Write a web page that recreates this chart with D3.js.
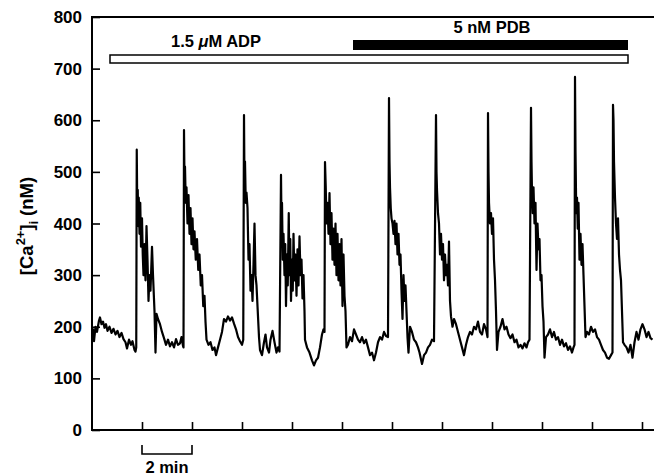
<!DOCTYPE html>
<html>
<head>
<meta charset="utf-8">
<script src="https://cdn.jsdelivr.net/npm/d3@7"></script>
<style>
  body { margin: 0; background: #fff; }
  svg text { font-family: "Liberation Sans", Arial, sans-serif; }
</style>
</head>
<body>
<svg id="chart" width="654" height="476"></svg>
<script>
// time (min) and [Ca2+]i (nM)
const timeMin = [
  0.00, 0.04, 0.08, 0.14, 0.20, 0.28, 0.32, 0.38, 0.44, 0.50, 0.56, 0.62, 0.70, 0.78, 0.86, 0.94, 1.02, 1.10, 1.18, 1.26, 1.34, 1.40, 1.48, 1.56, 1.62, 1.70, 1.74, 1.77,
  1.79, 1.81, 1.83, 1.85, 1.87, 1.90, 1.93, 1.96, 2.00, 2.03, 2.06, 2.10, 2.14, 2.18, 2.22, 2.26, 2.30, 2.34, 2.40, 2.44, 2.50, 2.54, 2.58, 2.64, 2.72, 2.80, 2.88, 2.96, 3.04, 3.12, 3.20, 3.28, 3.36, 3.44, 3.52, 3.58, 3.64, 3.66,
  3.68, 3.70, 3.72, 3.75, 3.78, 3.82, 3.86, 3.90, 3.94, 3.98, 4.02, 4.06, 4.10, 4.15, 4.20, 4.25, 4.30, 4.35, 4.40, 4.45, 4.50, 4.54, 4.58, 4.66, 4.74, 4.82, 4.90, 4.96, 5.04, 5.12, 5.20, 5.28, 5.36, 5.44, 5.52, 5.60, 5.68, 5.76, 5.84, 5.92, 6.00, 6.05,
  6.08, 6.10, 6.12, 6.15, 6.18, 6.22, 6.26, 6.30, 6.34, 6.38, 6.42, 6.46, 6.50, 6.54, 6.58, 6.62, 6.68, 6.72, 6.80, 6.88, 6.94, 7.00, 7.08, 7.14, 7.22, 7.30, 7.38, 7.44, 7.50,
  7.56, 7.58, 7.60, 7.63, 7.66, 7.70, 7.73, 7.76, 7.80, 7.83, 7.87, 7.90, 7.93, 7.96, 8.00, 8.03, 8.06, 8.10, 8.14, 8.18, 8.22, 8.26, 8.30, 8.34, 8.38, 8.42, 8.46, 8.50, 8.52, 8.60, 8.70, 8.80, 8.88, 8.96, 9.04, 9.12, 9.20, 9.26, 9.30,
  9.32, 9.35, 9.38, 9.42, 9.46, 9.50, 9.54, 9.58, 9.62, 9.66, 9.70, 9.74, 9.78, 9.82, 9.86, 9.90, 9.94, 9.98, 10.02, 10.06, 10.10, 10.14, 10.18, 10.24, 10.32, 10.40, 10.48, 10.56, 10.64, 10.72, 10.80, 10.88, 10.96, 11.04, 11.12, 11.20, 11.28, 11.36, 11.44, 11.52, 11.60, 11.68, 11.76, 11.84,
  11.88, 11.90, 11.92, 11.95, 11.98, 12.02, 12.06, 12.10, 12.14, 12.18, 12.22, 12.26, 12.30, 12.34, 12.38, 12.42, 12.46, 12.50, 12.54, 12.58, 12.62, 12.66, 12.72, 12.80, 12.88, 12.96, 13.04, 13.10, 13.20, 13.28, 13.36, 13.44, 13.52, 13.60, 13.68,
  13.76, 13.78, 13.80, 13.84, 13.88, 13.92, 13.96, 14.00, 14.04, 14.08, 14.12, 14.16, 14.20, 14.24, 14.28, 14.32, 14.36, 14.42, 14.48, 14.56, 14.64, 14.72, 14.80, 14.88, 14.96, 15.04, 15.12, 15.20, 15.28, 15.36, 15.44, 15.52, 15.60, 15.68, 15.76, 15.82,
  15.84, 15.86, 15.88, 15.92, 15.96, 16.00, 16.04, 16.08, 16.12, 16.16, 16.20, 16.26, 16.34, 16.42, 16.50, 16.58, 16.66, 16.74, 16.82, 16.90, 16.98, 17.06, 17.14, 17.22, 17.30, 17.38, 17.44, 17.50,
  17.56, 17.58, 17.60, 17.63, 17.66, 17.70, 17.74, 17.78, 17.82, 17.86, 17.90, 17.94, 17.98, 18.02, 18.06, 18.10, 18.16, 18.24, 18.32, 18.40, 18.48, 18.56, 18.64, 18.72, 18.80, 18.88, 18.96, 19.04, 19.12, 19.20, 19.26, 19.30,
  19.32, 19.34, 19.37, 19.40, 19.43, 19.46, 19.50, 19.54, 19.58, 19.62, 19.66, 19.70, 19.74, 19.80, 19.88, 19.96, 20.04, 20.12, 20.20, 20.28, 20.36, 20.44, 20.52, 20.60, 20.68, 20.76, 20.82,
  20.84, 20.86, 20.88, 20.92, 20.96, 21.00, 21.04, 21.08, 21.12, 21.16, 21.20, 21.24, 21.30, 21.38, 21.46, 21.54, 21.62, 21.70, 21.78, 21.86, 21.94, 22.02, 22.10, 22.18, 22.26, 22.34, 22.42
];
const caNM = [
  185, 195, 172, 200, 190, 212, 218, 205, 210, 198, 205, 192, 200, 188, 196, 185, 192, 180, 188, 176, 170, 158, 175, 165, 172, 155, 152, 160,
  543, 430, 465, 395, 450, 380, 440, 355, 410, 340, 300, 360, 290, 395, 330, 250, 300, 270, 355, 300, 230, 150, 225, 215, 205, 190, 178, 165, 175, 162, 170, 160, 176, 165, 168, 180, 163, 160,
  581, 480, 510, 440, 470, 400, 455, 380, 430, 360, 410, 350, 385, 330, 370, 310, 340, 280, 300, 240, 260, 210, 175, 165, 170, 155, 160, 145, 160, 175, 190, 215, 210, 220, 212, 218, 206, 195, 180, 172, 165, 175,
  610, 470, 520, 440, 460, 430, 330, 360, 270, 300, 250, 320, 400, 300, 280, 240, 180, 155, 145, 170, 185, 160, 150, 175, 192, 170, 150, 160, 152,
  494, 400, 440, 330, 380, 300, 360, 240, 340, 280, 420, 300, 370, 250, 330, 270, 380, 290, 340, 260, 350, 280, 375, 300, 330, 255, 300, 230, 175, 160, 150, 135, 125, 135, 140, 160, 185, 195, 190,
  519, 470, 400, 440, 380, 459, 360, 420, 330, 390, 320, 400, 300, 380, 290, 360, 280, 370, 240, 340, 260, 230, 160, 165, 180, 172, 195, 185, 175, 170, 180, 168, 175, 160, 145, 150, 135, 150, 170, 180, 175, 190, 182, 180,
  643, 520, 470, 430, 410, 400, 380, 405, 360, 400, 340, 380, 320, 340, 270, 215, 300, 250, 280, 230, 180, 150, 200, 190, 175, 170, 160, 150, 128, 145, 150, 160, 165, 175, 172,
  610, 500, 465, 420, 400, 340, 380, 330, 360, 290, 340, 300, 320, 280, 365, 250, 220, 200, 215, 205, 190, 175, 160, 145, 165, 180, 190, 185, 200, 195, 210, 190, 185, 205, 195, 180,
  614, 500, 440, 400, 420, 380, 410, 330, 290, 230, 155, 190, 200, 215, 195, 200, 185, 178, 185, 170, 175, 160, 165, 158, 168, 160, 170, 175,
  624, 520, 460, 420, 470, 400, 440, 310, 400, 350, 370, 290, 300, 240, 210, 140, 180, 185, 195, 180, 190, 175, 180, 165, 175, 162, 168, 155, 162, 150, 160, 165,
  684, 540, 420, 450, 390, 440, 330, 380, 320, 360, 300, 240, 180, 190, 185, 200, 190, 195, 180, 175, 165, 155, 150, 140, 138, 145, 150,
  630, 600, 520, 450, 400, 370, 410, 340, 310, 290, 230, 170, 165, 160, 150, 165, 140, 170, 190, 175, 195, 205, 195, 180, 190, 178, 175
];
const yTicks = [0, 100, 200, 300, 400, 500, 600, 700, 800];
const xTicks = [2, 4, 6, 8, 10, 12, 14, 16, 18, 20, 22];
// treatment bars: [start, end] in min
const adpSpan = [0.72, 21.44];
const pdbSpan = [10.44, 21.44];

const svg = d3.select('#chart');
const margin = { top: 17, left: 92, bottom: 46 };
const width = 654;
const height = 476;

const x = d3.scaleLinear().domain([0, 22.48]).range([margin.left, width]);
const y = d3.scaleLinear().domain([0, 800]).range([height - margin.bottom, margin.top]);

const data = timeMin.map((t, i) => ({ t, v: caNM[i] }));

// trace
svg.append('path')
  .datum(data)
  .attr('fill', 'none')
  .attr('stroke', '#000')
  .attr('stroke-width', 2.2)
  .attr('stroke-linejoin', 'round')
  .attr('d', d3.line().x((d) => x(d.t)).y((d) => y(d.v)));

// y axis, ticks pointing inward
const yAxis = svg.append('g')
  .attr('transform', `translate(${margin.left},0)`)
  .call(d3.axisRight(y).tickValues(yTicks).tickSize(8).tickFormat(''));
yAxis.select('.domain').remove();
yAxis.selectAll('line').attr('stroke-width', 1.6);

svg.append('g')
  .selectAll('text')
  .data(yTicks)
  .enter()
  .append('text')
  .attr('x', margin.left - 10)
  .attr('y', (d) => y(d))
  .attr('dy', '0.36em')
  .attr('text-anchor', 'end')
  .attr('font-size', 17)
  .attr('font-weight', 'bold')
  .text((d) => d);

// x axis, ticks pointing inward, no labels
const xAxis = svg.append('g')
  .attr('transform', `translate(0,${y(0)})`)
  .call(d3.axisTop(x).tickValues(xTicks).tickSize(8).tickFormat(''));
xAxis.select('.domain').remove();
xAxis.selectAll('line').attr('stroke-width', 1.6);

// frame lines
svg.append('path')
  .attr('d', `M${width},${y(800)}H${margin.left}V${y(0)}H${width}`)
  .attr('fill', 'none')
  .attr('stroke', '#000')
  .attr('stroke-width', 2);

// treatment bars
svg.append('rect')
  .attr('x', x(adpSpan[0]))
  .attr('y', 55)
  .attr('width', x(adpSpan[1]) - x(adpSpan[0]))
  .attr('height', 8)
  .attr('fill', '#fff')
  .attr('stroke', '#000')
  .attr('stroke-width', 1.5);

svg.append('rect')
  .attr('x', x(pdbSpan[0]))
  .attr('y', 40)
  .attr('width', x(pdbSpan[1]) - x(pdbSpan[0]))
  .attr('height', 10)
  .attr('fill', '#000');

const adpLabel = svg.append('text')
  .attr('x', 216)
  .attr('y', 47)
  .attr('text-anchor', 'middle')
  .attr('font-size', 16.5)
  .attr('font-weight', 'bold');
adpLabel.append('tspan').text('1.5 ');
adpLabel.append('tspan').attr('font-style', 'italic').text('μ');
adpLabel.append('tspan').text('M ADP');

svg.append('text')
  .attr('x', 492)
  .attr('y', 33)
  .attr('text-anchor', 'middle')
  .attr('font-size', 16.5)
  .attr('font-weight', 'bold')
  .text('5 nM PDB');

// y label
const yLabel = svg.append('text')
  .attr('transform', 'translate(33,226) rotate(-90)')
  .attr('text-anchor', 'middle')
  .attr('font-size', 18.5)
  .attr('font-weight', 'bold');
yLabel.append('tspan').text('[Ca');
yLabel.append('tspan').attr('font-size', 13).attr('dy', -8).text('2+');
yLabel.append('tspan').attr('dy', 8).text(']');
yLabel.append('tspan').attr('font-size', 12).attr('dy', 5).text('i');
yLabel.append('tspan').attr('dy', -5).text(' (nM)');

// 2 min scale bar
svg.append('path')
  .attr('d', `M${x(2)},445V454H${x(4)}V445`)
  .attr('fill', 'none')
  .attr('stroke', '#000')
  .attr('stroke-width', 1.6);

svg.append('text')
  .attr('x', x(3))
  .attr('y', 473)
  .attr('text-anchor', 'middle')
  .attr('font-size', 16.5)
  .attr('font-weight', 'bold')
  .text('2 min');
</script>
</body>
</html>
